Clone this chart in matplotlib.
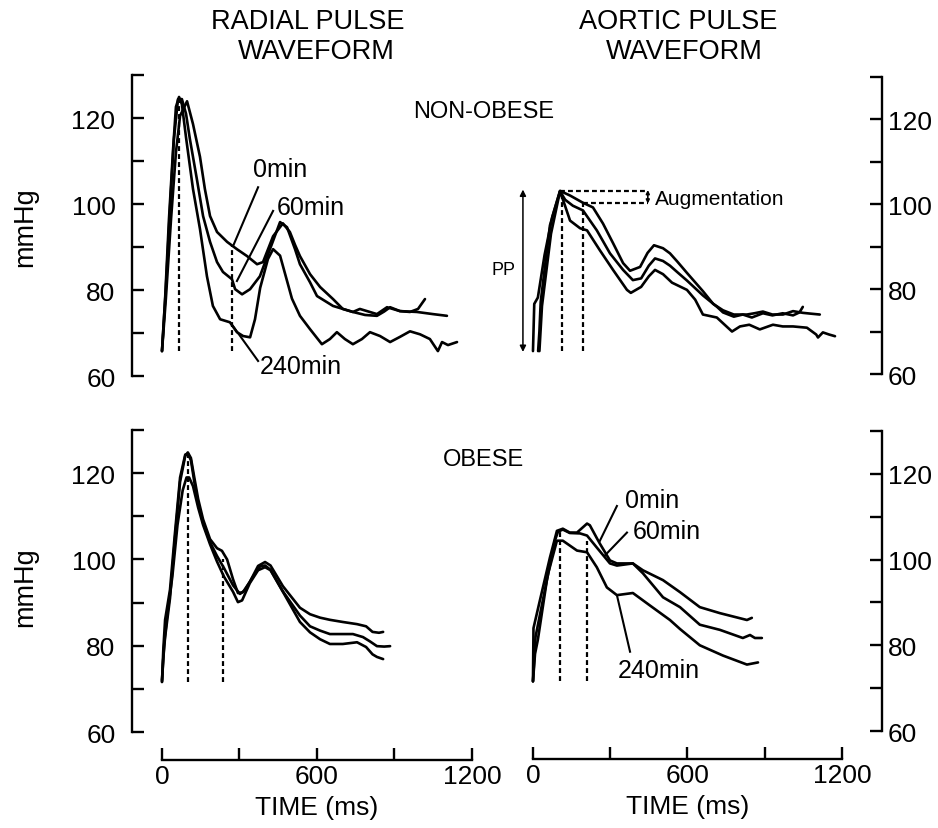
import matplotlib.pyplot as plt

plt.rcParams['font.family'] = ['Liberation Sans', 'DejaVu Sans']

# ---- radial pulse, non-obese (time ms, pressure mmHg) ----
rad_non_t0 = [0, 15, 35, 54, 70, 97, 120, 147, 166, 186, 213, 252, 290, 329, 368, 391, 430, 468, 495, 515,
              534, 573, 612, 662, 700, 739, 786, 832, 860, 883, 921, 960, 991, 1018]
rad_non_v0 = [65.8, 78, 96.5, 112, 120.5, 123.9, 118.6, 111, 103.5, 97.2, 93.5, 91.2, 89.5, 87.9, 86, 86.5, 92.5, 95.5, 93.5, 90.5,
              87.9, 83.7, 80.7, 77.9, 75.6, 74.9, 74.2, 74, 75, 76, 75.1, 74.9, 75.6, 77.9]
rad_non_t60 = [0, 15, 31, 46, 62, 77, 93, 108, 135, 159, 186, 213, 236, 271, 283, 310, 341, 379, 418, 457,
               484, 515, 534, 573, 600, 662, 739, 766, 832, 871, 921, 987, 1049, 1103]
rad_non_v60 = [65.8, 80.5, 99, 115, 124.4, 124.4, 121, 115.1, 105.8, 97.2, 91.2, 86.5, 84.2, 82.5, 80.2, 79, 80.2, 83.2, 89.5, 95.8,
               94.6, 89.5, 86, 81.8, 78.6, 76.3, 74.9, 75.6, 74.4, 76, 75.1, 74.9, 74.4, 74]
rad_non_t240 = [0, 12, 27, 43, 54, 66, 77, 93, 120, 147, 174, 197, 225, 263, 290, 314, 341, 360, 380, 410,
                430, 457, 480, 503, 534, 573, 619, 650, 677, 708, 739, 774, 805, 844, 883, 921, 960, 999, 1037, 1068,
                1084, 1107, 1142]
rad_non_v240 = [65.8, 77.9, 96.5, 112.8, 122.6, 124.9, 123.2, 115.5, 103.5, 94.2, 83.2, 76.3, 73.2, 72.5, 70.2, 69.3, 69, 73.2, 80.5, 87.2,
                89.5, 88, 83, 78, 74, 70.9, 67.4, 68.6, 70.2, 68.6, 67.4, 68.6, 70.2, 69.3, 67.9, 69.1, 70.4, 69.7, 68.6, 65.8,
                67.9, 67.2, 67.9]

# ---- aortic pulse, non-obese ----
aor_non_t0 = [0, 5, 19, 45, 75, 105, 144, 194, 233, 272, 311, 350, 377, 416, 445, 470, 505, 532, 560, 598,
              660, 700, 738, 780, 831, 860, 893, 930, 971, 1010, 1048, 1080, 1114]
aor_non_v0 = [65.4, 76.5, 78, 88, 97, 103.1, 102, 100.3, 99.2, 95.4, 90.8, 86.1, 84.3, 85.2, 88.5, 90.3, 89.6, 88.4, 86.5, 83.8,
              79.5, 76.5, 75, 74, 74, 74.3, 74.7, 74, 74, 74.8, 74.4, 74.2, 74]
aor_non_t60 = [20, 25, 30, 66, 105, 125, 155, 194, 248, 299, 350, 388, 420, 450, 474, 505, 532, 560, 598, 660,
               715, 738, 780, 815, 850, 893, 930, 970, 1010, 1035, 1048]
aor_non_v60 = [65.4, 70, 77, 95, 103, 101, 99.6, 98.5, 93.8, 88.4, 84.5, 82.1, 82.5, 85.5, 87.2, 86.6, 85.5, 84, 82, 78.5,
               75.8, 74.5, 73.5, 74, 73.3, 74.3, 73.8, 74.3, 73.8, 74.5, 75.8]
aor_non_t240 = [25, 35, 70, 105, 125, 144, 183, 210, 260, 311, 365, 380, 420, 450, 474, 505, 540, 598, 630, 660,
                714, 773, 804, 840, 881, 932, 970, 1010, 1064, 1100, 1107, 1126, 1150, 1173]
aor_non_v240 = [65.4, 76, 93, 103, 99.5, 96.1, 94.3, 93.8, 89.1, 84.5, 79.8, 79.1, 80.5, 83, 84.5, 83.5, 81.5, 79.8, 77.5, 74,
                73.3, 70, 71.2, 71.6, 70.5, 71.6, 71.2, 71.2, 70.9, 69.3, 68.6, 69.8, 69.3, 68.9]

# ---- radial pulse, obese ----
rad_ob_t0 = [0, 5, 12, 31, 50, 70, 90, 100, 112, 125, 140, 159, 186, 213, 232, 252, 275, 294, 313, 340,
             372, 399, 420, 468, 534, 573, 612, 650, 700, 755, 790, 815, 840, 856]
rad_ob_v0 = [71.6, 77, 82, 91, 104.7, 118, 124, 124.8, 123.5, 119, 114, 109.3, 104.7, 102.6, 102, 100, 95.4, 92.2, 92.4, 94.8,
             98.5, 99.4, 98.6, 93.8, 88.8, 87.3, 86.5, 86, 85.5, 85, 84.5, 83.2, 83, 83.2]
rad_ob_t60 = [0, 5, 12, 31, 50, 70, 90, 100, 112, 125, 140, 159, 186, 213, 240, 275, 302, 320, 350, 380,
              399, 420, 468, 534, 573, 612, 650, 700, 739, 778, 805, 832, 860, 883]
rad_ob_v60 = [71.6, 79, 86, 93, 106, 119, 124.3, 124.5, 123, 118, 113, 108.5, 104, 100.8, 98, 94, 92, 92.8, 95.8, 98.4,
              98.6, 97.6, 92.6, 87, 84.5, 83.5, 82.7, 82.7, 82.7, 82, 81, 79.9, 79.8, 79.9]
rad_ob_t240 = [0, 8, 20, 40, 60, 80, 95, 105, 120, 140, 159, 186, 213, 240, 275, 294, 310, 340, 372, 399,
               420, 468, 534, 573, 612, 650, 700, 755, 790, 815, 832, 856]
rad_ob_v240 = [72, 80, 87, 96, 108, 116, 119, 119, 117, 112, 108, 103.5, 99.5, 96, 92.5, 90.1, 90.5, 94.5, 97.5, 98.2,
               97.5, 92.5, 85.5, 83.1, 81.5, 80.4, 80.4, 80.8, 79.7, 78, 77.4, 76.9]

# ---- aortic pulse, obese ----
aor_ob_t0 = [0, 2, 27, 66, 93, 116, 143, 171, 210, 221, 248, 260, 299, 326, 388, 427, 505, 571, 648, 726, 831, 850]
aor_ob_v0 = [71.6, 84, 90.5, 100.5, 106.7, 107.2, 106.3, 106.3, 108.4, 108, 105, 103.7, 99.8, 99.1, 99.1, 97.5, 95.2, 92.4, 88.9, 87.5, 85.9, 86.4]
aor_ob_t60 = [0, 8, 19, 54, 85, 97, 116, 143, 183, 210, 248, 299, 326, 388, 427, 505, 571, 648, 726, 815, 843, 862, 889]
aor_ob_v60 = [71.6, 78, 81.3, 95.2, 104.4, 106.5, 107, 106.2, 106.1, 105.6, 102.8, 99.1, 98.6, 99.1, 96.8, 91.2, 88.9, 84.8, 83.6, 81.7, 82.4, 81.7, 81.7]
aor_ob_t240 = [0, 10, 30, 60, 93, 116, 171, 210, 248, 287, 326, 388, 454, 532, 571, 648, 738, 831, 874]
aor_ob_v240 = [71.6, 82, 88, 97, 104.4, 104.4, 102.1, 101.7, 98.2, 93.5, 91.7, 92.2, 89.3, 85.9, 83.8, 80, 77.6, 75.5, 76]

# dashed markers (time, top value), baseline
rad_non_marks = [(66, 124.5), (271, 90.5)]
aor_non_marks = [(113, 103.1), (194, 100.3)]
rad_ob_marks = [(100, 124.8), (236, 100)]
aor_ob_marks = [(105, 106.7), (210, 104.4)]

y_ticks = [60, 70, 80, 90, 100, 110, 120, 130]
y_labels = ['60', '', '80', '', '100', '', '120', '']
x_ticks = [0, 300, 600, 900, 1200]
x_labels = ['0', '', '600', '', '1200']

LW = 1.9
DASH = (0, (2.2, 1.4))

fig = plt.figure(figsize=(9.38, 8.29), dpi=100)
ax_tl = fig.add_axes([0.1727, 0.5452, 0.3305, 0.3631])
ax_tr = fig.add_axes([0.5682, 0.5476, 0.3294, 0.3589])
ax_bl = fig.add_axes([0.1727, 0.1158, 0.3305, 0.3643])
ax_br = fig.add_axes([0.5682, 0.1170, 0.3294, 0.3619])


def setup(ax, side, time_axis):
    ax.set_xlim(0, 1200)
    ax.set_ylim(60, 130)
    ax.patch.set_alpha(0)
    for s in ['top', 'left', 'right', 'bottom']:
        ax.spines[s].set_visible(False)
    sp = ax.spines[side]
    sp.set_visible(True)
    sp.set_position(('outward', 21.5 if side == 'left' else 29))
    sp.set_bounds(60, 130)
    sp.set_linewidth(1.7)
    ax.yaxis.set_ticks_position(side)
    ax.set_yticks(y_ticks)
    ax.set_yticklabels(y_labels)
    ax.tick_params(axis='y', direction='in', length=8.5, width=1.7, labelsize=19,
                   pad=12 if side == 'left' else 4)
    if time_axis:
        b = ax.spines['bottom']
        b.set_visible(True)
        b.set_position(('outward', 20))
        b.set_bounds(0, 1200)
        b.set_linewidth(1.7)
        ax.set_xticks(x_ticks)
        ax.set_xticklabels(x_labels)
        ax.tick_params(axis='x', direction='in', length=9, width=1.7, labelsize=19, pad=3)
        ax.set_xlabel('TIME (ms)', fontsize=19, labelpad=5)
    else:
        ax.set_xticks([])


def draw(ax, curves, marks, base):
    for t, v in curves:
        ax.plot(t, v, color='black', lw=LW, clip_on=False,
                solid_joinstyle='round', solid_capstyle='round')
    for t, top in marks:
        ax.vlines(t, base, top, colors='black', linestyles=DASH, lw=1.6)


setup(ax_tl, 'left', False)
setup(ax_tr, 'right', False)
setup(ax_bl, 'left', True)
setup(ax_br, 'right', True)

draw(ax_tl, [(rad_non_t0, rad_non_v0), (rad_non_t60, rad_non_v60), (rad_non_t240, rad_non_v240)], rad_non_marks, 65.8)
draw(ax_tr, [(aor_non_t0, aor_non_v0), (aor_non_t60, aor_non_v60), (aor_non_t240, aor_non_v240)], aor_non_marks, 65.4)
draw(ax_bl, [(rad_ob_t0, rad_ob_v0), (rad_ob_t60, rad_ob_v60), (rad_ob_t240, rad_ob_v240)], rad_ob_marks, 71.6)
draw(ax_br, [(aor_ob_t0, aor_ob_v0), (aor_ob_t60, aor_ob_v60), (aor_ob_t240, aor_ob_v240)], aor_ob_marks, 71.6)

# curve labels with leader lines: (text, text pos, line start, line end)
tl_labels = [('0min', (352, 108.1), (372, 103.9), (275, 90.2)),
             ('60min', (445, 99.3), (430, 98.4), (290, 82.1)),
             ('240min', (379, 62.3), (372, 63.5), (275, 71.6))]
br_labels = [('0min', (357, 113.9), (326, 112.5), (260, 104.4)),
             ('60min', (388, 106.7), (365, 106.3), (280, 101.0)),
             ('240min', (330, 74.3), (377, 78.5), (326, 91.7))]
for ax, labels in [(ax_tl, tl_labels), (ax_br, br_labels)]:
    for txt, pos, p0, p1 in labels:
        ax.plot([p0[0], p1[0]], [p0[1], p1[1]], color='black', lw=1.5)
        ax.text(pos[0], pos[1], txt, fontsize=18, ha='left', va='center')

# augmentation / PP markup on aortic non-obese
ax_tr.hlines([103.1, 100.3], [105, 194], 446, colors='black', linestyles=DASH, lw=1.6)
ax_tr.annotate('', xy=(446, 103.3), xytext=(446, 100.1),
               arrowprops=dict(arrowstyle='<|-|>', lw=1.2, color='black', mutation_scale=5, shrinkA=0, shrinkB=0))
ax_tr.text(474, 101.4, 'Augmentation', fontsize=15, ha='left', va='center')
ax_tr.annotate('', xy=(-39, 103.4), xytext=(-39, 65.2), annotation_clip=False,
               arrowprops=dict(arrowstyle='<|-|>', lw=1.1, color='black', mutation_scale=9, shrinkA=0, shrinkB=0))
ax_tr.text(-116, 84.5, 'PP', fontsize=13, ha='center', va='center', clip_on=False)

# titles and shared labels
fig.text(0.328, 0.9735, 'RADIAL PULSE', fontsize=19.5, ha='center', va='center')
fig.text(0.337, 0.937, 'WAVEFORM', fontsize=19.5, ha='center', va='center')
fig.text(0.723, 0.9735, 'AORTIC PULSE', fontsize=19.5, ha='center', va='center')
fig.text(0.730, 0.937, 'WAVEFORM', fontsize=19.5, ha='center', va='center')
fig.text(0.516, 0.865, 'NON-OBESE', fontsize=17, ha='center', va='center')
fig.text(0.515, 0.445, 'OBESE', fontsize=17, ha='center', va='center')
fig.text(0.027, 0.726, 'mmHg', fontsize=19.5, rotation=90, ha='center', va='center')
fig.text(0.027, 0.292, 'mmHg', fontsize=19.5, rotation=90, ha='center', va='center')

fig.savefig('out.png', dpi=100, facecolor='white')
